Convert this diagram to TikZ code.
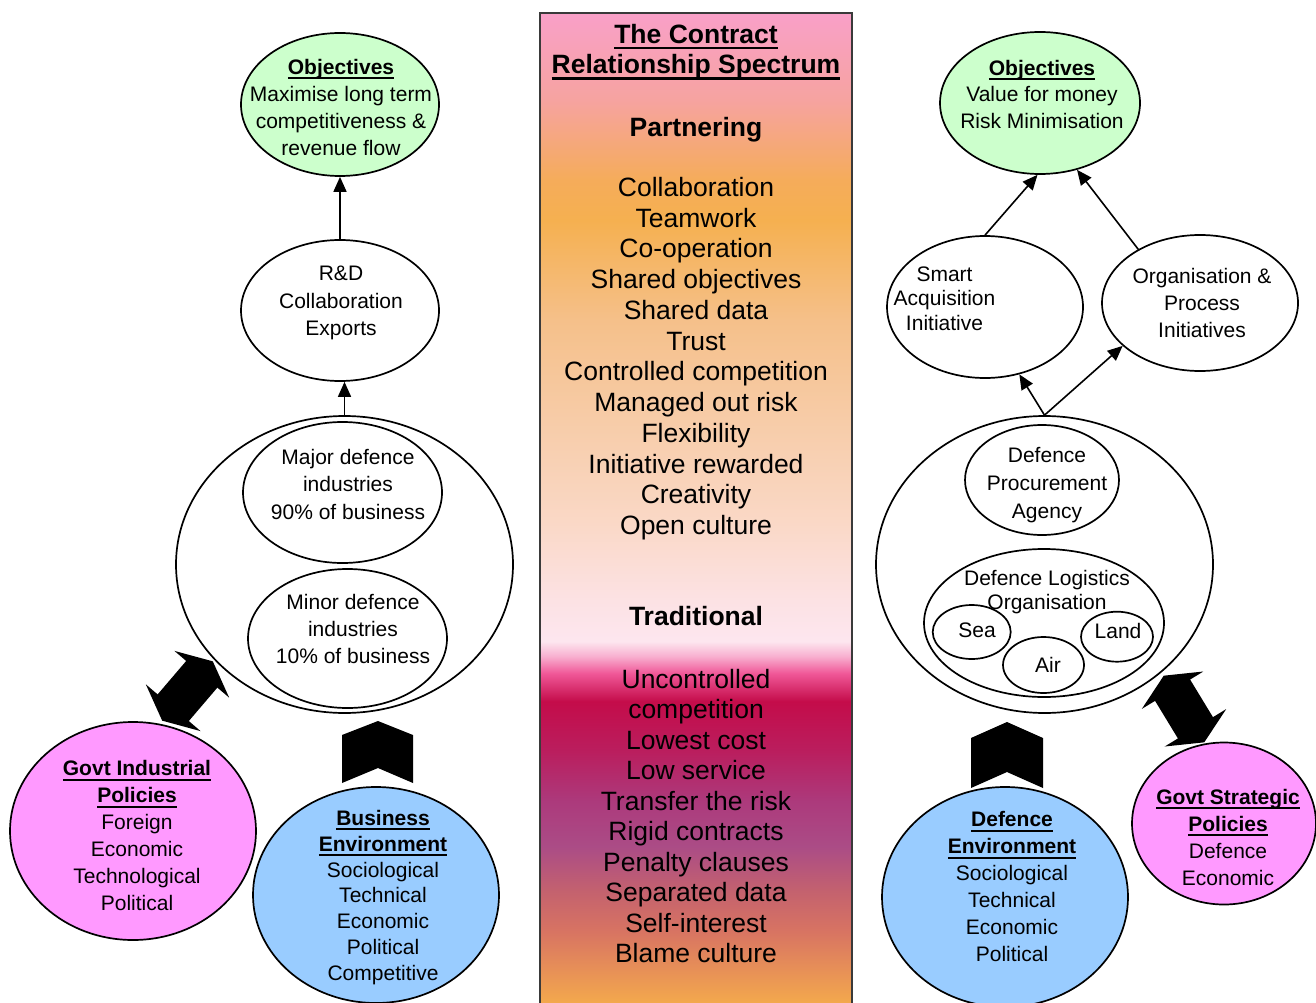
\documentclass[tikz,border=0pt]{standalone}
\usepackage{fontspec}
\setmainfont{Liberation Sans}
\usetikzlibrary{arrows.meta,shapes.geometric}

\definecolor{objgreen}{HTML}{CCFFCC}
\definecolor{polpink}{HTML}{FF99FF}
\definecolor{envblue}{HTML}{99CCFF}
\definecolor{barline}{HTML}{3A3A3A}

% colour stops of the spectrum bar, bottom to top
\definecolor{sA}{HTML}{F4AA4C}
\definecolor{sB}{HTML}{E68E58}
\definecolor{sC}{HTML}{D87462}
\definecolor{sD}{HTML}{C4626E}
\definecolor{sE}{HTML}{AB4C86}
\definecolor{sF}{HTML}{AC3A7C}
\definecolor{sG}{HTML}{BA1E5E}
\definecolor{sH}{HTML}{C40C4A}
\definecolor{sI}{HTML}{F05898}
\definecolor{sJ}{HTML}{F8B0D0}
\definecolor{sK}{HTML}{FDE6EF}
\definecolor{sL}{HTML}{FCE2E4}
\definecolor{sM}{HTML}{FAD8C6}
\definecolor{sN}{HTML}{F7CCA8}
\definecolor{sO}{HTML}{F5C08A}
\definecolor{sP}{HTML}{F5B050}
\definecolor{sQ}{HTML}{F5AC5A}
\definecolor{sR}{HTML}{F6A3A0}
\definecolor{sS}{HTML}{F9A0C8}

\pgfdeclareverticalshading{spectrum}{100bp}{%
  color(0bp)=(sA); color(25bp)=(sA); color(26.92bp)=(sB); color(28.69bp)=(sC);
  color(30.71bp)=(sD); color(32.98bp)=(sE); color(35.25bp)=(sF); color(37.78bp)=(sG);
  color(40.30bp)=(sH); color(41.72bp)=(sI); color(42.58bp)=(sJ); color(43.33bp)=(sK);
  color(45.35bp)=(sL); color(49.39bp)=(sM); color(54.44bp)=(sN); color(59.49bp)=(sO);
  color(64.55bp)=(sP); color(66.57bp)=(sQ); color(70.61bp)=(sR); color(75bp)=(sS);
  color(100bp)=(sS)}

% thick underline for headings
\newsavebox\hulbox
\newcommand\hul[1]{\sbox\hulbox{#1}\rlap{\rule[-0.23em]{\wd\hulbox}{0.1em}}\usebox\hulbox}
% fixed-height strut for first and last lines of a text block
\newcommand\ts{\rule[-0.22em]{0pt}{0.85em}}

\tikzset{
  ell/.style={ellipse, draw=black, line width=1.7pt, inner sep=0pt},
  txt/.style={align=center, inner sep=0pt, font=\fontsize{21}{27}\selectfont},
  bartxt/.style={anchor=base, inner sep=0pt, font=\fontsize{26.5}{30.7}\selectfont},
  barhead/.style={bartxt, font=\fontsize{26.5}{30.7}\selectfont\bfseries},
  arr/.style={line width=1.6pt, -{Triangle[length=15pt,width=13pt]}},
  blockarrow/.style={fill=black},
}

\begin{document}
\begin{tikzpicture}[x=1pt, y=-1pt]
\useasboundingbox (0,0) rectangle (1316,1003);
\fill[white] (0,0) rectangle (1316,1003);

% ---------- spectrum bar ----------
\node[rectangle, draw=barline, line width=1.5pt, shading=spectrum,
      minimum width=312pt, minimum height=992pt, inner sep=0pt] (bar) at (696,509) {};
\node[barhead] (title1) at (696,43.3) {\hul{The Contract}};
\node[barhead] (title2) at (696,74) {\hul{Relationship Spectrum}};
\node[barhead] (partner) at (696,136.7) {Partnering};
\foreach \t [count=\i from 0] in {Collaboration,Teamwork,Co-operation,Shared objectives,Shared data,Trust,Controlled competition,Managed out risk,Flexibility,Initiative rewarded,Creativity,Open culture}
  \node[bartxt] (pa\i) at (696,{196.5+30.73*\i}) {\t};
\node[barhead] (trad) at (696,625.7) {Traditional};
\foreach \t [count=\i from 0] in {Uncontrolled,competition,Lowest cost,Low service,Transfer the risk,Rigid contracts,Penalty clauses,Separated data,Self-interest,Blame culture}
  \node[bartxt] (tr\i) at (696,{688+30.55*\i}) {\t};

% ---------- industry side ----------
\node[ell, fill=objgreen, minimum width=198pt, minimum height=143pt] (objL) at (340,104.5) {};
\node[txt] (objLt) at (341,109.5) {\ts\textbf{\hul{Objectives}}\\Maximise long term\\competitiveness \&\\revenue flow\ts};

\node[ell, fill=white, minimum width=198pt, minimum height=141pt] (rdL) at (340,310.5) {};
\node[txt, font=\fontsize{21}{27.5}\selectfont] (rdLt) at (341,303.5) {\ts R\&D\\Collaboration\\Exports\ts};

\node[ell, fill=white, minimum width=337pt, minimum height=297pt] (bigL) at (344.5,564.5) {};
\node[ell, fill=white, minimum width=199pt, minimum height=141pt] (majL) at (342.5,492.5) {};
\node[txt, font=\fontsize{21}{27.5}\selectfont] (majLt) at (348,486.5) {\ts Major defence\\industries\\90\% of business\ts};
\node[ell, fill=white, minimum width=199pt, minimum height=139pt] (minL) at (347.5,638.5) {};
\node[txt] (minLt) at (353,631.5) {\ts Minor defence\\industries\\10\% of business\ts};

\node[ell, fill=envblue, minimum width=246pt, minimum height=216pt] (busL) at (376,895) {};
\node[txt, font=\fontsize{21}{25.8}\selectfont] (busLt) at (383,897.5) {\ts\textbf{\hul{Business}}\\\textbf{\hul{Environment}}\\Sociological\\Technical\\Economic\\Political\\Competitive\ts};

\node[ell, fill=polpink, minimum width=246pt, minimum height=218pt] (govL) at (133,831) {};
\node[txt] (govLt) at (137,838) {\ts\textbf{\hul{Govt Industrial}}\\\textbf{\hul{Policies}}\\Foreign\\Economic\\Technological\\Political\ts};

\draw[arr] (rdL.north) -- (objL.south);
\draw[arr] (bigL.north) -- (bigL.north |- rdL.south);

% ---------- defence side ----------
\node[ell, fill=objgreen, minimum width=200pt, minimum height=142pt] (objR) at (1040,103) {};
\node[txt, font=\fontsize{21}{26.5}\selectfont] (objRt) at (1042,96.5) {\ts\textbf{\hul{Objectives}}\\Value for money\\Risk Minimisation\ts};

\node[ell, fill=white, minimum width=196pt, minimum height=142pt] (smart) at (985,307) {};
\node[txt, font=\fontsize{21}{24.5}\selectfont] (smartt) at (944.5,300.5) {\ts Smart\\Acquisition\\Initiative\ts};

\node[ell, fill=white, minimum width=196pt, minimum height=136pt] (org) at (1200,303) {};
\node[txt] (orgt) at (1202,305) {\ts Organisation \&\\Process\\Initiatives\ts};

\node[ell, fill=white, minimum width=337pt, minimum height=297pt] (bigR) at (1044.5,564.5) {};
\node[ell, fill=white, minimum width=154pt, minimum height=110pt] (dpa) at (1042,480) {};
\node[txt, font=\fontsize{21}{28}\selectfont] (dpat) at (1047,485) {\ts Defence\\Procurement\\Agency\ts};

\node[ell, fill=white, minimum width=240pt, minimum height=148pt] (dlo) at (1044,623) {};
\node[txt, font=\fontsize{21}{24}\selectfont] (dlot) at (1047,592) {\ts Defence Logistics\\Organisation\ts};
\node[ell, minimum width=78pt, minimum height=54pt] (sea) at (971.7,632) {};
\node[txt, anchor=base] (seat) at (977,637.5) {Sea};
\node[ell, minimum width=72pt, minimum height=50pt] (land) at (1117,636.7) {};
\node[txt, anchor=base] (landt) at (1118,638.5) {Land};
\node[ell, fill=white, minimum width=81pt, minimum height=56pt] (air) at (1043.5,665) {};
\node[txt, anchor=base] (airt) at (1048,672.5) {Air};

\node[ell, fill=envblue, minimum width=246pt, minimum height=220pt] (defR) at (1005,897) {};
\node[txt] (defRt) at (1012,889) {\ts\textbf{\hul{Defence}}\\\textbf{\hul{Environment}}\\Sociological\\Technical\\Economic\\Political\ts};

\node[ell, fill=polpink, minimum width=184pt, minimum height=162pt] (govR) at (1224,823.5) {};
\node[txt] (govRt) at (1228,839.5) {\ts\textbf{\hul{Govt Strategic}}\\\textbf{\hul{Policies}}\\Defence\\Economic\ts};

\draw[arr] (smart.north) -- (objR.-92);
\draw[arr] (org.139) -- (objR.-61);
\draw[arr] (bigR.north) -- (smart.-63);
\draw[arr] (bigR.north) -- (org.-151);

% ---------- influence arrows ----------
\begin{scope}[shift={(187.5,691)}, rotate=49.5]
  \fill[blockarrow] (39,0) -- (22,36) -- (22,20.5) -- (-22,20.5) -- (-22,36) -- (-39,0)
    -- (-22,-36) -- (-22,-20.5) -- (22,-20.5) -- (22,-36) -- cycle;
\end{scope}
\begin{scope}[shift={(1184,709)}, rotate=121.3]
  \fill[blockarrow] (39,0) -- (22,36) -- (22,20.5) -- (-22,20.5) -- (-22,36) -- (-39,0)
    -- (-22,-36) -- (-22,-20.5) -- (22,-20.5) -- (22,-36) -- cycle;
\end{scope}
\fill[blockarrow] (342,735) -- (378,721) -- (413,735) -- (413,783) -- (378,768) -- (342,783) -- cycle;
\fill[blockarrow] (971,738) -- (1007,722) -- (1043,738) -- (1043,788) -- (1007,772) -- (971,788) -- cycle;
\end{tikzpicture}
\end{document}
